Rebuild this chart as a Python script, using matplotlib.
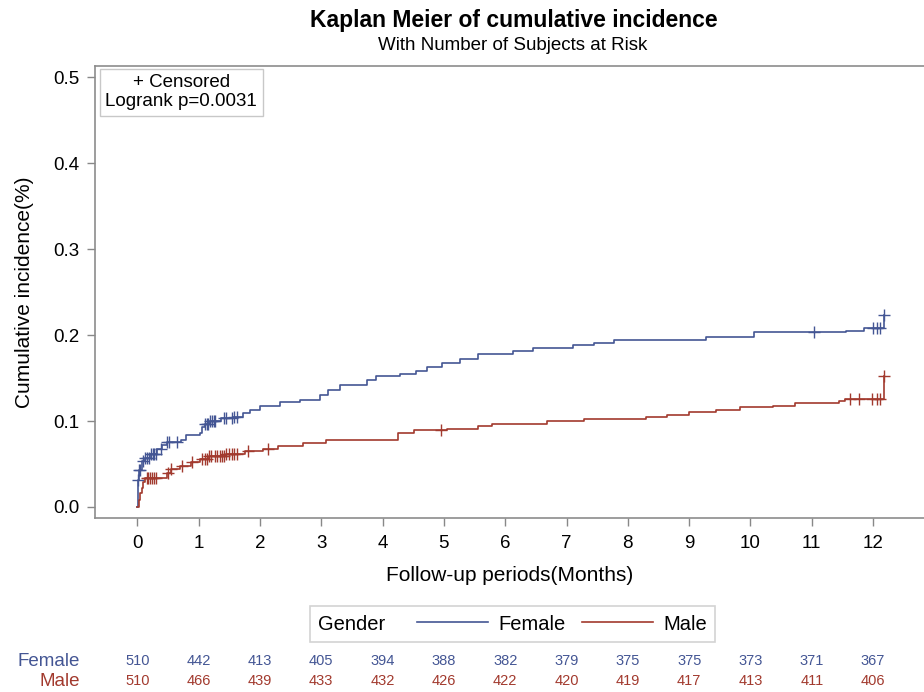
import numpy as np
import matplotlib
matplotlib.use("Agg")
import matplotlib.pyplot as plt
from matplotlib.lines import Line2D
from matplotlib.offsetbox import HPacker
from matplotlib.transforms import blended_transform_factory

plt.rcParams['font.family'] = ['Liberation Sans', 'DejaVu Sans']

# step curves (months, cumulative incidence)
female_t = [0, 0.01, 0.03, 0.07, 0.12, 0.21, 0.32, 0.4, 0.48, 0.72, 0.8, 1.02, 1.05, 1.1,
            1.19, 1.36, 1.56, 1.73, 1.84, 2.0, 2.33, 2.65, 2.98, 3.11, 3.31, 3.74, 3.9,
            4.29, 4.55, 4.72, 4.97, 5.26, 5.55, 6.13, 6.46, 7.1, 7.44, 7.77, 9.28, 10.05,
            11.55, 11.85, 12.17]
female_v = [0.0, 0.031, 0.043, 0.053, 0.057, 0.062, 0.067, 0.072, 0.076, 0.078, 0.084,
            0.086, 0.093, 0.097, 0.1, 0.103, 0.105, 0.109, 0.113, 0.117, 0.122, 0.125,
            0.13, 0.136, 0.142, 0.148, 0.152, 0.155, 0.158, 0.163, 0.168, 0.172, 0.178,
            0.181, 0.185, 0.188, 0.191, 0.194, 0.198, 0.203, 0.205, 0.208, 0.223]
female_cens = [0.01, 0.03, 0.05, 0.1, 0.13, 0.16, 0.19, 0.22, 0.25, 0.28, 0.3, 0.38, 0.48,
               0.52, 0.65, 1.1, 1.13, 1.16, 1.19, 1.22, 1.25, 1.27, 1.42, 1.45, 1.55,
               1.58, 1.62, 11.04, 12.0, 12.06, 12.11, 12.17]

male_t = [0, 0.02, 0.04, 0.07, 0.1, 0.13, 0.48, 0.55, 0.7, 0.88, 1.02, 1.17, 1.45, 1.75,
          2.05, 2.3, 2.7, 3.08, 4.25, 4.52, 5.05, 5.55, 5.78, 6.68, 7.29, 8.3, 8.64, 9.0,
          9.44, 9.83, 10.36, 10.72, 11.45, 11.54, 12.17]
male_v = [0.0, 0.008, 0.016, 0.022, 0.029, 0.034, 0.04, 0.044, 0.048, 0.052, 0.056,
          0.059, 0.062, 0.065, 0.068, 0.071, 0.075, 0.078, 0.086, 0.089, 0.091, 0.094,
          0.096, 0.1, 0.102, 0.105, 0.107, 0.11, 0.113, 0.116, 0.118, 0.121, 0.123,
          0.126, 0.152]
male_cens = [0.15, 0.18, 0.21, 0.24, 0.27, 0.3, 0.5, 0.55, 0.73, 0.9, 1.05, 1.1, 1.13,
             1.17, 1.2, 1.27, 1.3, 1.35, 1.38, 1.42, 1.45, 1.5, 1.55, 1.58, 1.62, 1.8,
             2.13, 4.95, 11.63, 11.77, 11.99, 12.07, 12.12, 12.17]

months = list(range(13))
female_risk = [510, 442, 413, 405, 394, 388, 382, 379, 375, 375, 373, 371, 367]
male_risk = [510, 466, 439, 433, 432, 426, 422, 420, 419, 417, 413, 411, 406]

blue = "#445694"
red = "#A23A2E"


def at(ts, vs, c):
    # value of the step curve at time c
    i = np.searchsorted(ts, c, side="right") - 1
    return np.asarray(vs)[i]


fig = plt.figure(figsize=(9.24, 6.92), dpi=100)
ax = fig.add_axes([95/924, 1 - 518/692, 1 - 95/924, (518 - 66)/692])

for ts, vs, cens, col in [(female_t, female_v, female_cens, blue),
                          (male_t, male_v, male_cens, red)]:
    ax.plot(ts, vs, drawstyle="steps-post", color=col, lw=1.2)
    ax.plot(cens, at(ts, vs, cens), ls="none", marker="+", ms=8, mew=1, color=col)

ax.set_xlim(-0.69, 12.83)
ax.set_ylim(-0.0128, 0.513)
ax.set_xticks(months)
ax.set_yticks([0.0, 0.1, 0.2, 0.3, 0.4, 0.5])
ax.set_yticklabels(["0.0", "0.1", "0.2", "0.3", "0.4", "0.5"])
ax.tick_params(labelsize=13.5, color="#888888", length=6, width=1)
ax.tick_params(axis="x", pad=6)
ax.tick_params(axis="y", pad=5)
for s in ["left", "top", "bottom"]:
    ax.spines[s].set_color("#8c8c8c")
    ax.spines[s].set_linewidth(1.2)
ax.spines["right"].set_visible(False)
ax.set_xlabel("Follow-up periods(Months)", fontsize=15, labelpad=10)
ax.set_ylabel("Cumulative incidence(%)", fontsize=15, labelpad=14)

ax.text(0.0125, 0.982, "+ Censored\nLogrank p=0.0031", transform=ax.transAxes,
        ha="left", va="top", fontsize=13.5, linespacing=1.15, multialignment="center",
        bbox=dict(boxstyle="square,pad=0.3", fc="white", ec="#c8c8c8", lw=1))

fig.text(514/924, 1 - 20/692, "Kaplan Meier of cumulative incidence", ha="center",
         va="center", fontsize=16.5, fontweight="bold")
fig.text(513/924, 1 - 46/692, "With Number of Subjects at Risk", ha="center",
         va="center", fontsize=13.5)

fs = 14.5
handles = [Line2D([], [], color=blue, lw=1.2), Line2D([], [], color=red, lw=1.2)]
leg = fig.legend(handles, ["Female", "Male"], title="Gender", ncol=2, loc="center",
                 bbox_to_anchor=(512.5/924, 1 - 624/692), frameon=True, fancybox=False,
                 edgecolor="#c8c8c8", handlelength=3.5, handletextpad=0.5,
                 columnspacing=0.85, borderpad=0.4,
                 prop={"size": fs}, title_fontproperties={"size": fs})
leg.get_frame().set_linewidth(1.2)
# put the title beside the entries, as in the reference
leg._legend_box = HPacker(pad=leg.borderpad * fs, sep=23,
                          align="center",
                          children=[leg._legend_title_box, leg._legend_handle_box])
leg._legend_box.set_figure(fig)
leg._set_loc(leg._loc)

tr = blended_transform_factory(ax.transData, fig.transFigure)
for m, f, ml in zip(months, female_risk, male_risk):
    ax.text(m, 1 - 661/692, str(f), transform=tr, ha="center", va="center",
            fontsize=10.5, color=blue)
    ax.text(m, 1 - 681/692, str(ml), transform=tr, ha="center", va="center",
            fontsize=10.5, color=red)
fig.text(80/924, 1 - 661/692, "Female", ha="right", va="center", fontsize=13.5,
         color=blue)
fig.text(80/924, 1 - 681/692, "Male", ha="right", va="center", fontsize=13.5,
         color=red)

fig.savefig("out.png", dpi=100)
